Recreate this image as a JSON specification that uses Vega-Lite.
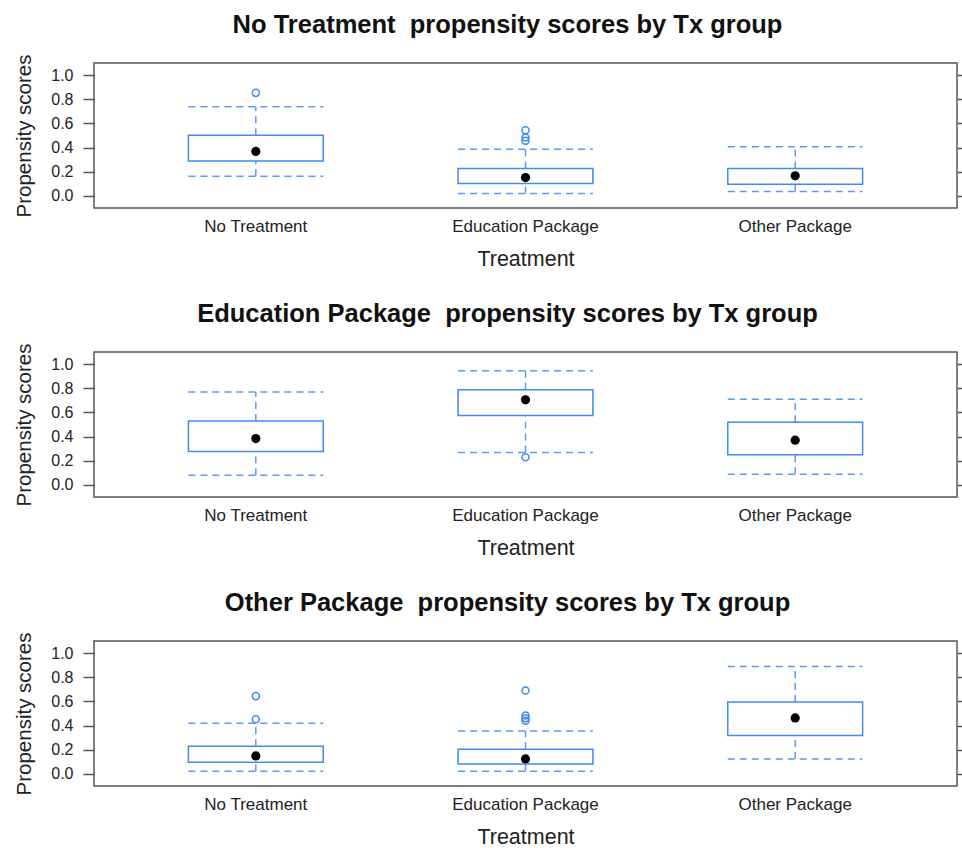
{
  "$schema": "https://vega.github.io/schema/vega-lite/v6.json",
  "padding": {"left": 14, "top": 11, "right": 0, "bottom": 0},
  "background": "white",
  "datasets": {
    "stats": [
      {"panel": "No Treatment", "treatment": "No Treatment", "q1": 0.29, "q3": 0.503, "med": 0.368, "lo": 0.163, "hi": 0.737},
      {"panel": "No Treatment", "treatment": "Education Package", "q1": 0.103, "q3": 0.227, "med": 0.152, "lo": 0.02, "hi": 0.387},
      {"panel": "No Treatment", "treatment": "Other Package", "q1": 0.097, "q3": 0.227, "med": 0.166, "lo": 0.036, "hi": 0.406},
      {"panel": "Education Package", "treatment": "No Treatment", "q1": 0.276, "q3": 0.53, "med": 0.384, "lo": 0.08, "hi": 0.768},
      {"panel": "Education Package", "treatment": "Education Package", "q1": 0.574, "q3": 0.787, "med": 0.704, "lo": 0.268, "hi": 0.944},
      {"panel": "Education Package", "treatment": "Other Package", "q1": 0.249, "q3": 0.519, "med": 0.37, "lo": 0.088, "hi": 0.71},
      {"panel": "Other Package", "treatment": "No Treatment", "q1": 0.097, "q3": 0.229, "med": 0.149, "lo": 0.022, "hi": 0.42},
      {"panel": "Other Package", "treatment": "Education Package", "q1": 0.083, "q3": 0.205, "med": 0.124, "lo": 0.022, "hi": 0.356},
      {"panel": "Other Package", "treatment": "Other Package", "q1": 0.317, "q3": 0.595, "med": 0.463, "lo": 0.124, "hi": 0.89}
    ],
    "outliers": [
      {"panel": "No Treatment", "treatment": "No Treatment", "value": 0.853},
      {"panel": "No Treatment", "treatment": "Education Package", "value": 0.544},
      {"panel": "No Treatment", "treatment": "Education Package", "value": 0.484},
      {"panel": "No Treatment", "treatment": "Education Package", "value": 0.456},
      {"panel": "Education Package", "treatment": "Education Package", "value": 0.229},
      {"panel": "Other Package", "treatment": "No Treatment", "value": 0.644},
      {"panel": "Other Package", "treatment": "No Treatment", "value": 0.453},
      {"panel": "Other Package", "treatment": "Education Package", "value": 0.691},
      {"panel": "Other Package", "treatment": "Education Package", "value": 0.484},
      {"panel": "Other Package", "treatment": "Education Package", "value": 0.46},
      {"panel": "Other Package", "treatment": "Education Package", "value": 0.44}
    ]
  },
  "vconcat": [
    {
      "title": {"text": "No Treatment \u00a0propensity scores by Tx group"},
      "width": 863, "height": 145,
      "resolve": {"axis": {"y": "independent"}},
      "layer": [
        {"data": {"name": "stats"}, "transform": [{"filter": "datum.panel === 'No Treatment'"}],
         "mark": {"type": "rule", "strokeDash": [7, 5], "color": "#5a9af7", "strokeWidth": 1.5},
         "encoding": {
           "x": {"field": "treatment", "type": "nominal", "sort": null, "title": "Treatment", "scale": {"domain": ["No Treatment", "Education Package", "Other Package"], "paddingInner": 0.5, "paddingOuter": 0.35}, "axis": {"ticks": false, "labelAngle": 0, "labelPadding": 10, "labelFontSize": 17, "titlePadding": 14, "titleFontSize": 21.5}},
           "y": {"field": "q3", "type": "quantitative", "scale": {"domain": [-0.1, 1.1], "nice": false, "zero": false}, "axis": {"title": "Propensity scores", "values": [0, 0.2, 0.4, 0.6, 0.8, 1], "format": ".1f", "tickSize": 11, "labelPadding": 10, "titlePadding": 16}},
           "y2": {"field": "hi"}}},
        {"data": {"name": "stats"}, "transform": [{"filter": "datum.panel === 'No Treatment'"}],
         "mark": {"type": "rule", "strokeDash": [7, 5], "color": "#5a9af7", "strokeWidth": 1.5},
         "encoding": {
           "x": {"field": "treatment", "type": "nominal", "sort": null},
           "y": {"field": "lo", "type": "quantitative", "axis": {"orient": "right", "title": null, "labels": false, "values": [0, 0.2, 0.4, 0.6, 0.8, 1], "tickSize": 6}},
           "y2": {"field": "q1"}}},
        {"data": {"name": "stats"}, "transform": [{"filter": "datum.panel === 'No Treatment'"}],
         "mark": {"type": "rule", "strokeDash": [7, 5], "color": "#5a9af7", "strokeWidth": 1.5},
         "encoding": {
           "x": {"field": "treatment", "type": "nominal", "sort": null, "bandPosition": 0},
           "x2": {"field": "treatment", "bandPosition": 1},
           "y": {"field": "hi", "type": "quantitative", "axis": null}}},
        {"data": {"name": "stats"}, "transform": [{"filter": "datum.panel === 'No Treatment'"}],
         "mark": {"type": "rule", "strokeDash": [7, 5], "color": "#5a9af7", "strokeWidth": 1.5},
         "encoding": {
           "x": {"field": "treatment", "type": "nominal", "sort": null, "bandPosition": 0},
           "x2": {"field": "treatment", "bandPosition": 1},
           "y": {"field": "lo", "type": "quantitative", "axis": null}}},
        {"data": {"name": "stats"}, "transform": [{"filter": "datum.panel === 'No Treatment'"}],
         "mark": {"type": "bar", "fill": "white", "stroke": "#4189f5", "strokeWidth": 1.5},
         "encoding": {
           "x": {"field": "treatment", "type": "nominal", "sort": null},
           "y": {"field": "q1", "type": "quantitative", "axis": null},
           "y2": {"field": "q3"}}},
        {"data": {"name": "stats"}, "transform": [{"filter": "datum.panel === 'No Treatment'"}],
         "mark": {"type": "point", "filled": true, "color": "black", "size": 85, "opacity": 1},
         "encoding": {
           "x": {"field": "treatment", "type": "nominal", "sort": null},
           "y": {"field": "med", "type": "quantitative", "axis": null}}},
        {"data": {"name": "outliers"}, "transform": [{"filter": "datum.panel === 'No Treatment'"}],
         "mark": {"type": "point", "filled": false, "color": "#4189f5", "size": 50, "strokeWidth": 1.5, "opacity": 1},
         "encoding": {
           "x": {"field": "treatment", "type": "nominal", "sort": null},
           "y": {"field": "value", "type": "quantitative", "axis": null}}}
      ]
    },
    {
      "title": {"text": "Education Package \u00a0propensity scores by Tx group"},
      "width": 863, "height": 145,
      "resolve": {"axis": {"y": "independent"}},
      "layer": [
        {"data": {"name": "stats"}, "transform": [{"filter": "datum.panel === 'Education Package'"}],
         "mark": {"type": "rule", "strokeDash": [7, 5], "color": "#5a9af7", "strokeWidth": 1.5},
         "encoding": {
           "x": {"field": "treatment", "type": "nominal", "sort": null, "title": "Treatment", "scale": {"domain": ["No Treatment", "Education Package", "Other Package"], "paddingInner": 0.5, "paddingOuter": 0.35}, "axis": {"ticks": false, "labelAngle": 0, "labelPadding": 10, "labelFontSize": 17, "titlePadding": 14, "titleFontSize": 21.5}},
           "y": {"field": "q3", "type": "quantitative", "scale": {"domain": [-0.1, 1.1], "nice": false, "zero": false}, "axis": {"title": "Propensity scores", "values": [0, 0.2, 0.4, 0.6, 0.8, 1], "format": ".1f", "tickSize": 11, "labelPadding": 10, "titlePadding": 16}},
           "y2": {"field": "hi"}}},
        {"data": {"name": "stats"}, "transform": [{"filter": "datum.panel === 'Education Package'"}],
         "mark": {"type": "rule", "strokeDash": [7, 5], "color": "#5a9af7", "strokeWidth": 1.5},
         "encoding": {
           "x": {"field": "treatment", "type": "nominal", "sort": null},
           "y": {"field": "lo", "type": "quantitative", "axis": {"orient": "right", "title": null, "labels": false, "values": [0, 0.2, 0.4, 0.6, 0.8, 1], "tickSize": 6}},
           "y2": {"field": "q1"}}},
        {"data": {"name": "stats"}, "transform": [{"filter": "datum.panel === 'Education Package'"}],
         "mark": {"type": "rule", "strokeDash": [7, 5], "color": "#5a9af7", "strokeWidth": 1.5},
         "encoding": {
           "x": {"field": "treatment", "type": "nominal", "sort": null, "bandPosition": 0},
           "x2": {"field": "treatment", "bandPosition": 1},
           "y": {"field": "hi", "type": "quantitative", "axis": null}}},
        {"data": {"name": "stats"}, "transform": [{"filter": "datum.panel === 'Education Package'"}],
         "mark": {"type": "rule", "strokeDash": [7, 5], "color": "#5a9af7", "strokeWidth": 1.5},
         "encoding": {
           "x": {"field": "treatment", "type": "nominal", "sort": null, "bandPosition": 0},
           "x2": {"field": "treatment", "bandPosition": 1},
           "y": {"field": "lo", "type": "quantitative", "axis": null}}},
        {"data": {"name": "stats"}, "transform": [{"filter": "datum.panel === 'Education Package'"}],
         "mark": {"type": "bar", "fill": "white", "stroke": "#4189f5", "strokeWidth": 1.5},
         "encoding": {
           "x": {"field": "treatment", "type": "nominal", "sort": null},
           "y": {"field": "q1", "type": "quantitative", "axis": null},
           "y2": {"field": "q3"}}},
        {"data": {"name": "stats"}, "transform": [{"filter": "datum.panel === 'Education Package'"}],
         "mark": {"type": "point", "filled": true, "color": "black", "size": 85, "opacity": 1},
         "encoding": {
           "x": {"field": "treatment", "type": "nominal", "sort": null},
           "y": {"field": "med", "type": "quantitative", "axis": null}}},
        {"data": {"name": "outliers"}, "transform": [{"filter": "datum.panel === 'Education Package'"}],
         "mark": {"type": "point", "filled": false, "color": "#4189f5", "size": 50, "strokeWidth": 1.5, "opacity": 1},
         "encoding": {
           "x": {"field": "treatment", "type": "nominal", "sort": null},
           "y": {"field": "value", "type": "quantitative", "axis": null}}}
      ]
    },
    {
      "title": {"text": "Other Package \u00a0propensity scores by Tx group"},
      "width": 863, "height": 145,
      "resolve": {"axis": {"y": "independent"}},
      "layer": [
        {"data": {"name": "stats"}, "transform": [{"filter": "datum.panel === 'Other Package'"}],
         "mark": {"type": "rule", "strokeDash": [7, 5], "color": "#5a9af7", "strokeWidth": 1.5},
         "encoding": {
           "x": {"field": "treatment", "type": "nominal", "sort": null, "title": "Treatment", "scale": {"domain": ["No Treatment", "Education Package", "Other Package"], "paddingInner": 0.5, "paddingOuter": 0.35}, "axis": {"ticks": false, "labelAngle": 0, "labelPadding": 10, "labelFontSize": 17, "titlePadding": 14, "titleFontSize": 21.5}},
           "y": {"field": "q3", "type": "quantitative", "scale": {"domain": [-0.1, 1.1], "nice": false, "zero": false}, "axis": {"title": "Propensity scores", "values": [0, 0.2, 0.4, 0.6, 0.8, 1], "format": ".1f", "tickSize": 11, "labelPadding": 10, "titlePadding": 16}},
           "y2": {"field": "hi"}}},
        {"data": {"name": "stats"}, "transform": [{"filter": "datum.panel === 'Other Package'"}],
         "mark": {"type": "rule", "strokeDash": [7, 5], "color": "#5a9af7", "strokeWidth": 1.5},
         "encoding": {
           "x": {"field": "treatment", "type": "nominal", "sort": null},
           "y": {"field": "lo", "type": "quantitative", "axis": {"orient": "right", "title": null, "labels": false, "values": [0, 0.2, 0.4, 0.6, 0.8, 1], "tickSize": 6}},
           "y2": {"field": "q1"}}},
        {"data": {"name": "stats"}, "transform": [{"filter": "datum.panel === 'Other Package'"}],
         "mark": {"type": "rule", "strokeDash": [7, 5], "color": "#5a9af7", "strokeWidth": 1.5},
         "encoding": {
           "x": {"field": "treatment", "type": "nominal", "sort": null, "bandPosition": 0},
           "x2": {"field": "treatment", "bandPosition": 1},
           "y": {"field": "hi", "type": "quantitative", "axis": null}}},
        {"data": {"name": "stats"}, "transform": [{"filter": "datum.panel === 'Other Package'"}],
         "mark": {"type": "rule", "strokeDash": [7, 5], "color": "#5a9af7", "strokeWidth": 1.5},
         "encoding": {
           "x": {"field": "treatment", "type": "nominal", "sort": null, "bandPosition": 0},
           "x2": {"field": "treatment", "bandPosition": 1},
           "y": {"field": "lo", "type": "quantitative", "axis": null}}},
        {"data": {"name": "stats"}, "transform": [{"filter": "datum.panel === 'Other Package'"}],
         "mark": {"type": "bar", "fill": "white", "stroke": "#4189f5", "strokeWidth": 1.5},
         "encoding": {
           "x": {"field": "treatment", "type": "nominal", "sort": null},
           "y": {"field": "q1", "type": "quantitative", "axis": null},
           "y2": {"field": "q3"}}},
        {"data": {"name": "stats"}, "transform": [{"filter": "datum.panel === 'Other Package'"}],
         "mark": {"type": "point", "filled": true, "color": "black", "size": 85, "opacity": 1},
         "encoding": {
           "x": {"field": "treatment", "type": "nominal", "sort": null},
           "y": {"field": "med", "type": "quantitative", "axis": null}}},
        {"data": {"name": "outliers"}, "transform": [{"filter": "datum.panel === 'Other Package'"}],
         "mark": {"type": "point", "filled": false, "color": "#4189f5", "size": 50, "strokeWidth": 1.5, "opacity": 1},
         "encoding": {
           "x": {"field": "treatment", "type": "nominal", "sort": null},
           "y": {"field": "value", "type": "quantitative", "axis": null}}}
      ]
    }
  ],
  "config": {
    "font": "Liberation Sans",
    "view": {"stroke": "#555", "strokeWidth": 1.5},
    "axis": {"labelFontSize": 16, "titleFontSize": 20.5, "labelColor": "#222", "titleColor": "#222", "titleFontWeight": "normal", "grid": false, "domain": false, "tickColor": "#555", "tickWidth": 1.5},
    "title": {"fontSize": 25.5, "fontWeight": "bold", "color": "#111", "anchor": "middle", "offset": 16, "dx": -18},
    "concat": {"spacing": 29}
  }
}
